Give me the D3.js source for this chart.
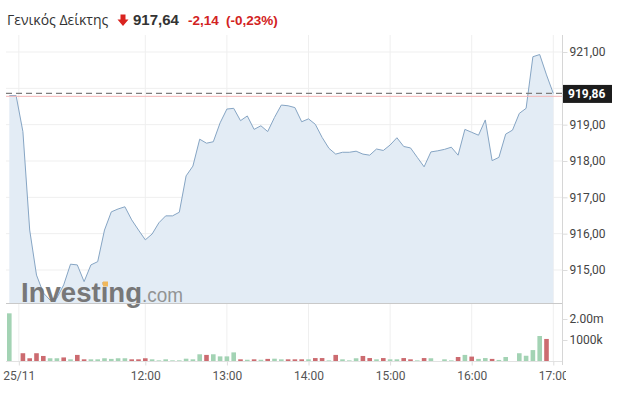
<!DOCTYPE html>
<html>
<head>
<meta charset="utf-8">
<title>Γενικός Δείκτης</title>
<script src="https://d3js.org/d3.v7.min.js"></script>
<style>
  body { margin: 0; background: #fff; }
  svg { display: block; }
</style>
</head>
<body>
<script>
// 5 minute points, 25/11
var times = ["10:20","10:25","10:30","10:35","10:40","10:45","10:50","10:55",
  "11:00","11:05","11:10","11:15","11:20","11:25","11:30","11:35","11:40","11:45","11:50","11:55",
  "12:00","12:05","12:10","12:15","12:20","12:25","12:30","12:35","12:40","12:45","12:50","12:55",
  "13:00","13:05","13:10","13:15","13:20","13:25","13:30","13:35","13:40","13:45","13:50","13:55",
  "14:00","14:05","14:10","14:15","14:20","14:25","14:30","14:35","14:40","14:45","14:50","14:55",
  "15:00","15:05","15:10","15:15","15:20","15:25","15:30","15:35","15:40","15:45","15:50","15:55",
  "16:00","16:05","16:10","16:15","16:20","16:25","16:30","16:35","16:40","16:45","16:50","16:55",
  "17:00"];

var prices = [919.80,919.80,918.81,916.10,914.86,914.37,914.17,914.23,914.59,915.16,
  915.14,914.68,915.14,915.23,916.10,916.60,916.68,916.74,916.38,916.10,
  915.83,915.99,916.30,916.49,916.49,916.59,917.59,917.86,918.60,918.49,
  918.53,919.05,919.43,919.45,919.11,919.24,918.87,918.97,918.81,919.20,
  919.54,919.52,919.47,919.08,919.16,919.01,918.65,918.35,918.19,918.24,
  918.24,918.27,918.19,918.16,918.33,918.29,918.44,918.64,918.40,918.36,
  918.10,917.84,918.25,918.28,918.32,918.38,918.16,918.87,918.79,918.71,
  919.13,918.01,918.10,918.74,918.85,919.31,919.45,920.87,920.93,920.37,
  919.86];

// volume in millions
var volumes = [2.27,0,0.37,0.13,0.37,0.24,0.13,0.13,0.17,0.08,
  0.29,0.08,0.08,0.08,0.13,0.10,0.13,0.13,0.08,0.08,
  0.13,0.08,0.03,0.08,0.03,0.03,0.11,0.08,0.32,0.29,
  0.32,0.22,0.22,0.41,0.08,0.06,0.08,0.06,0.10,0.11,
  0.08,0.08,0.08,0.08,0.08,0.14,0.14,0.03,0.29,0.08,
  0.03,0.13,0.24,0.14,0.08,0.14,0.08,0.08,0.14,0.08,
  0.03,0.14,0.13,0,0.08,0.03,0.19,0.29,0.21,0.10,
  0.14,0.10,0.05,0.19,0,0.37,0.25,0.52,1.19,1.05,
  0];

// u = up bar, d = down bar
var directions = ["u","u","d","d","d","d","u","u","d","u",
  "d","d","u","u","u","u","u","u","d","d",
  "d","u","u","u","u","u","u","u","u","d",
  "u","u","u","u","d","u","d","u","d","u",
  "u","d","d","d","u","d","d","u","d","u",
  "u","u","d","d","u","d","u","u","d","d",
  "u","d","u","u","u","u","d","u","d","u",
  "u","d","u","u","u","u","u","u","u","d",
  "u"];

var priceGrid = [915, 916, 917, 918, 919, 920, 921];
var priceTicks = [915, 916, 917, 918, 919, 921]; // 920 sits under the price box
var volTicks = [1, 2];
var volTickLabels = ["1000k", "2.00m"];
var timeTicks = ["10:27","12:00","13:00","14:00","15:00","16:00","17:00"];
var timeTickLabels = ["25/11","12:00","13:00","14:00","15:00","16:00","17:00"];

var lastPrice = 919.86;
var prevClose = 919.78;
var headName = "Γενικός Δείκτης";
var headValue = "917,64";
var headChange = "-2,14";
var headPct = "(-0,23%)";

var W = 620, H = 399;
var left = 6, right = 562;
var priceTop = 35, priceBottom = 303;
var volBottom = 361;

var parseTime = d3.timeParse("%H:%M");
var data = times.map(function(t, i) {
  return { t: parseTime(t), price: prices[i], vol: volumes[i], dir: directions[i] };
});

var svg = d3.select("body").append("svg")
  .attr("width", W)
  .attr("height", H)
  .style("font-family", "Roboto, 'Open Sans', sans-serif");

// time labels get cut at the right pane edge
svg.append("clipPath")
  .attr("id", "xclip")
  .append("rect")
  .attr("x", 0).attr("y", 0)
  .attr("width", right + 4).attr("height", H);

var x = d3.scaleTime()
  .domain([parseTime("10:20"), parseTime("17:00")])
  .range([9.3, 553.3]);

var y = d3.scaleLinear()
  .domain([915, 921])
  .range([270, 52]);

var yVol = d3.scaleLinear()
  .domain([0, 1])
  .range([volBottom, volBottom - 21]);

// grid
svg.append("g").selectAll("line")
  .data(timeTicks)
  .enter().append("line")
  .attr("x1", function(d) { return x(parseTime(d)); })
  .attr("x2", function(d) { return x(parseTime(d)); })
  .attr("y1", priceTop)
  .attr("y2", volBottom)
  .attr("stroke", "#efefef");

svg.append("g").selectAll("line")
  .data(priceGrid)
  .enter().append("line")
  .attr("x1", left)
  .attr("x2", right)
  .attr("y1", function(d) { return y(d); })
  .attr("y2", function(d) { return y(d); })
  .attr("stroke", "#efefef");

// area + line
var area = d3.area()
  .x(function(d) { return x(d.t); })
  .y0(priceBottom)
  .y1(function(d) { return y(d.price); });

var line = d3.line()
  .x(function(d) { return x(d.t); })
  .y(function(d) { return y(d.price); });

svg.append("path")
  .datum(data)
  .attr("d", area)
  .attr("fill", "#e3ecf5");

svg.append("path")
  .datum(data)
  .attr("d", line)
  .attr("fill", "none")
  .attr("stroke", "#86a5c4")
  .attr("stroke-width", 1);

// logo
var logo = svg.append("g").attr("opacity", 0.92);
logo.append("text")
  .attr("x", 21)
  .attr("y", 302)
  .attr("textLength", 121)
  .attr("lengthAdjust", "spacingAndGlyphs")
  .style("font-family", "'Liberation Sans', Arial, sans-serif")
  .style("font-weight", "bold")
  .style("font-size", "28px")
  .attr("fill", "#6e6e6e")
  .text("Investing");
logo.append("text")
  .attr("x", 142)
  .attr("y", 302)
  .attr("textLength", 41)
  .attr("lengthAdjust", "spacingAndGlyphs")
  .style("font-family", "'Liberation Sans', Arial, sans-serif")
  .style("font-size", "20px")
  .attr("fill", "#8c8c8c")
  .text(".com");
logo.append("rect")
  .attr("x", 103)
  .attr("y", 281.5)
  .attr("width", 5)
  .attr("height", 5)
  .attr("fill", "#f2b450");

// reference lines
svg.append("line")
  .attr("x1", left).attr("x2", right)
  .attr("y1", y(prevClose)).attr("y2", y(prevClose))
  .attr("stroke", "#f3b6b6")
  .attr("stroke-width", 1);

svg.append("line")
  .attr("x1", left).attr("x2", right)
  .attr("y1", y(lastPrice)).attr("y2", y(lastPrice))
  .attr("stroke", "#7d7d7d")
  .attr("stroke-width", 1.3)
  .attr("stroke-dasharray", "6,4");

// pane borders
svg.append("line")
  .attr("x1", left).attr("x2", right)
  .attr("y1", priceBottom + 0.5).attr("y2", priceBottom + 0.5)
  .attr("stroke", "#c9c9c9");

svg.append("line")
  .attr("x1", right + 0.5).attr("x2", right + 0.5)
  .attr("y1", priceTop).attr("y2", volBottom + 4)
  .attr("stroke", "#d6d6d6");

// volume bars
svg.append("g").selectAll("rect")
  .data(data.filter(function(d) { return d.vol > 0; }))
  .enter().append("rect")
  .attr("x", function(d) { return x(d.t) - 2.3; })
  .attr("width", 4.6)
  .attr("y", function(d) { return yVol(d.vol); })
  .attr("height", function(d) { return volBottom - yVol(d.vol); })
  .attr("fill", function(d) { return d.dir == "u" ? "#a3d3b4" : "#cc6b70"; });

svg.append("line")
  .attr("x1", left).attr("x2", right)
  .attr("y1", volBottom + 0.5).attr("y2", volBottom + 0.5)
  .attr("stroke", "#e2e2e2");

// x axis
var xAxis = d3.axisBottom(x)
  .tickValues(timeTicks.map(parseTime))
  .tickFormat(function(d, i) { return timeTickLabels[i]; })
  .tickSize(4)
  .tickPadding(6);

var gx = svg.append("g")
  .attr("clip-path", "url(#xclip)")
  .append("g")
  .attr("transform", "translate(0," + (volBottom + 0.5) + ")")
  .call(xAxis);
gx.select(".domain").remove();
gx.selectAll("line").attr("stroke", "#dcdcdc");
gx.selectAll("text")
  .attr("fill", "#555")
  .style("font-size", "12px")
  .style("font-family", "Roboto, sans-serif");

// y axis (price)
var yAxis = d3.axisRight(y)
  .tickValues(priceTicks)
  .tickFormat(function(d) { return d3.format(".2f")(d).replace(".", ","); })
  .tickSize(5)
  .tickPadding(2);

var gy = svg.append("g")
  .attr("transform", "translate(" + (right + 0.5) + ",0)")
  .call(yAxis);
gy.select(".domain").remove();
gy.selectAll("line").attr("stroke", "#dcdcdc");
gy.selectAll("text")
  .attr("fill", "#444")
  .style("font-size", "12px")
  .style("font-family", "Roboto, sans-serif");

// y axis (volume)
var gv = svg.append("g")
  .attr("transform", "translate(" + (right + 0.5) + ",0)")
  .call(d3.axisRight(yVol)
    .tickValues(volTicks)
    .tickFormat(function(d, i) { return volTickLabels[i]; })
    .tickSize(5)
    .tickPadding(2));
gv.select(".domain").remove();
gv.selectAll("line").attr("stroke", "#dcdcdc");
gv.selectAll("text")
  .attr("fill", "#444")
  .style("font-size", "12px")
  .style("font-family", "Roboto, sans-serif");

// last price label
var lp = svg.append("g")
  .attr("transform", "translate(" + (right + 1) + "," + y(lastPrice) + ")");
lp.append("rect")
  .attr("x", 0)
  .attr("y", -8.5)
  .attr("width", 49)
  .attr("height", 18)
  .attr("fill", "#1c1c1c");
lp.append("text")
  .attr("x", 5)
  .attr("y", 4.5)
  .attr("fill", "#fff")
  .style("font-size", "12px")
  .style("font-weight", "bold")
  .style("font-family", "Roboto, sans-serif")
  .text(d3.format(".2f")(lastPrice).replace(".", ","));

// header
svg.append("text")
  .attr("x", 7)
  .attr("y", 25)
  .attr("fill", "#333")
  .style("font-family", "'Open Sans', sans-serif")
  .style("font-size", "14px")
  .text(headName);

svg.append("path")
  .attr("d", "M120.5,14.5 h5 v5 h3 l-5.5,6.5 l-5.5,-6.5 h3 z")
  .attr("fill", "#d9231f");

svg.append("text")
  .attr("x", 133)
  .attr("y", 25)
  .attr("fill", "#333")
  .style("font-family", "'Liberation Sans', Arial, sans-serif")
  .style("font-weight", "bold")
  .style("font-size", "15px")
  .text(headValue);

svg.append("text")
  .attr("x", 188)
  .attr("y", 25)
  .attr("fill", "#d22222")
  .style("font-family", "'Liberation Sans', Arial, sans-serif")
  .style("font-weight", "bold")
  .style("font-size", "13.5px")
  .text(headChange);

svg.append("text")
  .attr("x", 226)
  .attr("y", 25)
  .attr("fill", "#d22222")
  .style("font-family", "'Liberation Sans', Arial, sans-serif")
  .style("font-weight", "bold")
  .style("font-size", "13.5px")
  .text(headPct);
</script>
</body>
</html>
